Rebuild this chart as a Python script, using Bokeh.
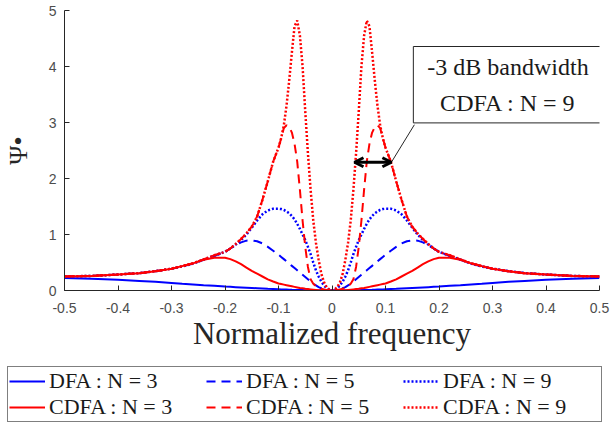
from bokeh.plotting import figure
from bokeh.models import Legend, LegendItem, FixedTicker, Label, Arrow, OpenHead, Range1d
from bokeh.embed import file_html
from bokeh.resources import INLINE

# ---------------- data (positive half; curves are symmetric about 0) ----------------
XH = [0, 0.005, 0.01, 0.015, 0.02, 0.025, 0.03, 0.035, 0.04, 0.045,
      0.05, 0.055, 0.06, 0.065, 0.07, 0.075, 0.08, 0.085, 0.09, 0.095,
      0.1, 0.11, 0.12, 0.13, 0.14, 0.15, 0.16, 0.17, 0.18, 0.19,
      0.2, 0.22, 0.24, 0.26, 0.28, 0.3, 0.33, 0.36, 0.4, 0.45, 0.5]

DFA_N3 = [0, 0, 0, 0, 0, 0.001, 0.002, 0.003, 0.004, 0.005,
          0.006, 0.007, 0.008, 0.01, 0.011, 0.012, 0.014, 0.016, 0.018, 0.02,
          0.022, 0.026, 0.03, 0.035, 0.04, 0.045, 0.05, 0.055, 0.06, 0.065,
          0.07, 0.083, 0.095, 0.108, 0.12, 0.135, 0.155, 0.17, 0.19, 0.21, 0.225]

DFA_N5 = [0, 0, 0.01, 0.02, 0.04, 0.06, 0.09, 0.12, 0.16, 0.2,
          0.24, 0.28, 0.32, 0.36, 0.4, 0.44, 0.48, 0.52, 0.56, 0.6,
          0.64, 0.71, 0.78, 0.84, 0.88, 0.895, 0.89, 0.86, 0.81, 0.75,
          0.69, 0.62, 0.55, 0.48, 0.43, 0.39, 0.345, 0.31, 0.285, 0.26, 0.25]

DFA_N9 = [0, 0.01, 0.04, 0.09, 0.16, 0.25, 0.36, 0.5, 0.65, 0.78,
          0.9, 1.0, 1.1, 1.19, 1.27, 1.33, 1.38, 1.41, 1.44, 1.455,
          1.46, 1.46, 1.43, 1.36, 1.25, 1.12, 1.0, 0.9, 0.82, 0.75,
          0.69, 0.62, 0.55, 0.48, 0.43, 0.39, 0.345, 0.31, 0.285, 0.26, 0.25]

CDFA_N3 = [0, 0, 0, 0, 0.005, 0.005, 0.01, 0.015, 0.02, 0.025,
           0.03, 0.04, 0.045, 0.055, 0.065, 0.075, 0.085, 0.095, 0.105, 0.115,
           0.125, 0.16, 0.2, 0.25, 0.3, 0.35, 0.41, 0.47, 0.52, 0.56,
           0.585, 0.585, 0.55, 0.485, 0.435, 0.39, 0.345, 0.31, 0.285, 0.26, 0.25]

CDFA_N5 = [0, 0, 0.01, 0.02, 0.03, 0.05, 0.08, 0.12, 0.2, 0.42,
           0.78, 1.25, 1.8, 2.3, 2.62, 2.82, 2.92, 2.95, 2.9, 2.72,
           2.55, 2.3, 1.95, 1.62, 1.32, 1.14, 1.02, 0.92, 0.83, 0.75,
           0.69, 0.63, 0.555, 0.485, 0.435, 0.39, 0.345, 0.31, 0.285, 0.26, 0.25]

CDFA_N9 = [0, 0.02, 0.06, 0.15, 0.3, 0.55, 0.85, 1.25, 1.8, 2.45,
           3.2, 4.0, 4.55, 4.82, 4.72, 4.25, 3.75, 3.3, 2.95, 2.72,
           2.55, 2.3, 1.95, 1.62, 1.32, 1.14, 1.02, 0.92, 0.83, 0.75,
           0.69, 0.63, 0.555, 0.485, 0.435, 0.39, 0.345, 0.31, 0.285, 0.26, 0.25]

SERIES_LABELS = ["DFA : N = 3", "DFA : N = 5", "DFA : N = 9",
                 "CDFA : N = 3", "CDFA : N = 5", "CDFA : N = 9"]

XTICKS = [-0.5, -0.4, -0.3, -0.2, -0.1, 0, 0.1, 0.2, 0.3, 0.4, 0.5]
XTICK_LABELS = ["-0.5", "-0.4", "-0.3", "-0.2", "-0.1", "0", "0.1", "0.2", "0.3", "0.4", "0.5"]
YTICKS = [0, 1, 2, 3, 4, 5]

# -3 dB bandwidth marker of CDFA N = 9 (left / right half-power points)
BW_LEFT, BW_RIGHT, BW_LEVEL = 0.042, 0.111, 2.29
ANNOT_TEXT = "-3 dB bandwidth\nCDFA : N = 9"
ANNOT_X, ANNOT_Y = 0.329, 3.675
CALLOUT_X, CALLOUT_Y = 0.154, 2.96


def mirror(xs, ys):
    fx = [-v for v in reversed(xs[1:])] + list(xs)
    fy = list(reversed(ys[1:])) + list(ys)
    return fx, fy


styles = [
    (DFA_N3, "#0000ff", "solid"),
    (DFA_N5, "#0000ff", "9 6"),
    (DFA_N9, "#0000ff", "2 2"),
    (CDFA_N3, "#ff0000", "solid"),
    (CDFA_N5, "#ff0000", "9 6"),
    (CDFA_N9, "#ff0000", "2 2"),
]

# ---------------- main plot ----------------
p = figure(width=610, height=362, x_range=Range1d(-0.5, 0.5), y_range=Range1d(0, 5),
           output_backend="svg", toolbar_location=None,
           min_border_left=61, min_border_right=11, min_border_top=10, min_border_bottom=72)
p.background_fill_color = "white"
p.border_fill_color = "white"
p.outline_line_color = None
p.grid.visible = False

for ys, col, dash in styles:
    fx, fy = mirror(XH, ys)
    lw = 2.5 if dash == "2 2" else 2
    p.line(fx, fy, line_color=col, line_width=lw, line_dash=dash)

for ax in (p.xaxis[0], p.yaxis[0]):
    ax.major_tick_in = 5
    ax.major_tick_out = 0
    ax.minor_tick_line_color = None
    ax.axis_line_color = "#262626"
    ax.major_tick_line_color = "#262626"
    ax.major_label_text_font = "Liberation Sans"
    ax.major_label_text_font_size = "14px"
    ax.major_label_text_color = "#4d4d4d"
    ax.axis_label_text_font = "Liberation Serif"
    ax.axis_label_text_font_style = "normal"
    ax.axis_label_text_color = "#262626"

p.xaxis.ticker = FixedTicker(ticks=XTICKS)
p.xaxis.major_label_overrides = dict(zip(XTICKS, XTICK_LABELS))
p.xaxis.major_label_standoff = 12
p.xaxis.axis_label = "Normalized frequency"
p.xaxis.axis_label_text_font_size = "31px"
p.xaxis.axis_label_standoff = 0

p.yaxis.ticker = FixedTicker(ticks=YTICKS)
p.yaxis.major_label_standoff = 8
p.yaxis.axis_label = "Ψ•"
p.yaxis.axis_label_text_font_size = "26px"
p.yaxis.axis_label_standoff = 13

# annotation: -3 dB bandwidth arrow with callout box
p.segment(x0=[CALLOUT_X], y0=[CALLOUT_Y], x1=[BW_RIGHT], y1=[BW_LEVEL],
          line_color="#262626", line_width=1)
p.add_layout(Arrow(start=OpenHead(size=9, line_width=3, line_color="black"),
                   end=OpenHead(size=9, line_width=3, line_color="black"),
                   x_start=BW_LEFT, y_start=BW_LEVEL, x_end=BW_RIGHT, y_end=BW_LEVEL,
                   line_width=3, line_color="black"))
p.add_layout(Label(x=ANNOT_X, y=ANNOT_Y, text=ANNOT_TEXT, text_align="center",
                   text_baseline="middle", text_font="Liberation Serif",
                   text_font_size="24px", text_color="#1a1a1a", text_line_height=1.4,
                   border_line_color="#262626", border_line_width=1,
                   background_fill_color="white", background_fill_alpha=1.0,
                   padding=(14, 7)))

# ---------------- legend strip (separate root, boxed, 3 columns x 2 rows) ----------------
lg = figure(width=610, height=62, x_range=Range1d(0, 1), y_range=Range1d(0, 1),
            output_backend="svg", toolbar_location=None, min_border=0,
            x_axis_type=None, y_axis_type=None)
lg.outline_line_color = None
lg.grid.visible = False
lg.background_fill_color = "white"
lg.border_fill_color = "white"
items = []
for (ys, col, dash), lab in zip(styles, SERIES_LABELS):
    fx, fy = mirror(XH, ys)
    lw = 2.5 if dash == "2 2" else 2
    r = lg.line(fx, fy, line_color=col, line_width=lw, line_dash=dash, visible=False)
    items.append(LegendItem(label=lab, renderers=[r]))
legend = Legend(items=items, location=(7, 2), orientation="horizontal", ncols=3,
                label_text_font="Liberation Serif", label_text_font_size="22px",
                label_text_color="#1a1a1a",
                glyph_width=36, glyph_height=20, label_standoff=4,
                label_width=157, label_height=24,
                spacing=0, padding=1, margin=0,
                border_line_color="black", border_line_width=1,
                background_fill_color="white", background_fill_alpha=1.0)
lg.add_layout(legend, "center")

open("out.html", "w").write(file_html([p, lg], INLINE))
